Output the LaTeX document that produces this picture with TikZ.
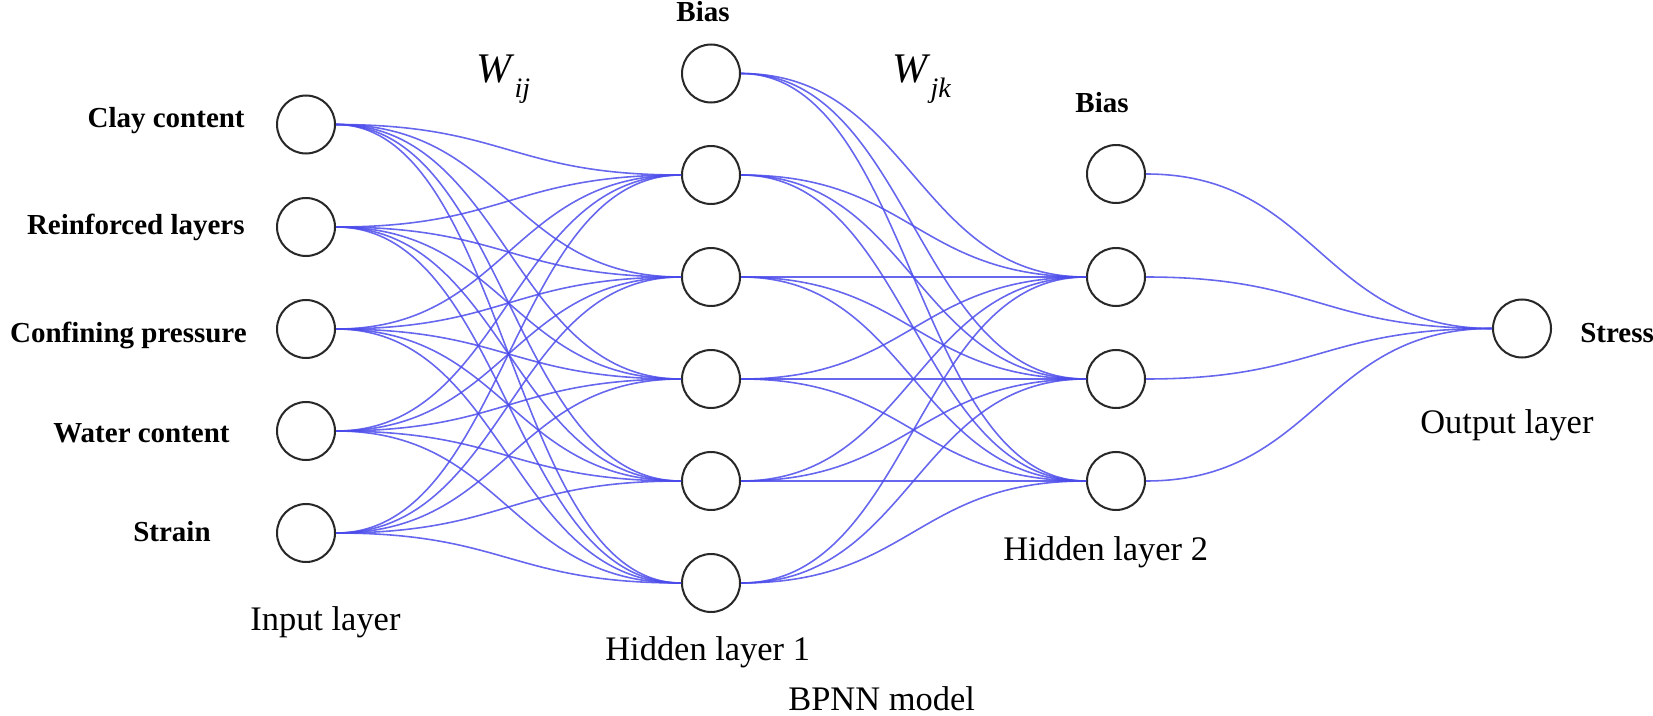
\documentclass[tikz,border=0pt]{standalone}
\usepackage{fontspec}
\setmainfont{Liberation Serif}
\definecolor{wireblue}{RGB}{75,75,235}
\definecolor{ringgray}{RGB}{40,40,40}
\begin{document}
\begin{tikzpicture}[x=0.02cm,y=-0.02cm,
  neuron/.style={circle,draw=ringgray,line width=1.15pt,fill=white,minimum size=1.16cm,inner sep=0pt},
  wire/.style={draw=wireblue,line width=0.9pt,opacity=0.85},
  blabel/.style={font=\fontsize{16.5}{18}\selectfont\bfseries,inner sep=0pt},
  rlabel/.style={font=\fontsize{19.6}{22}\selectfont,inner sep=0pt,anchor=base west},
  wlabel/.style={inner sep=0pt,anchor=base west}]
\useasboundingbox (0,0) rectangle (1653,716);

% input layer
\node[neuron] (i1) at (306,124.5) {};
\node[neuron] (i2) at (306,227) {};
\node[neuron] (i3) at (306,329) {};
\node[neuron] (i4) at (306,431) {};
\node[neuron] (i5) at (306,533) {};
% hidden layer 1
\node[neuron] (hb) at (711,73.5) {};
\node[neuron] (h1) at (711,175) {};
\node[neuron] (h2) at (711,277) {};
\node[neuron] (h3) at (711,379) {};
\node[neuron] (h4) at (711,481) {};
\node[neuron] (h5) at (711,583) {};
% hidden layer 2
\node[neuron] (gb) at (1116,174) {};
\node[neuron] (g1) at (1116,277) {};
\node[neuron] (g2) at (1116,379) {};
\node[neuron] (g3) at (1116,481) {};
% output
\node[neuron] (o) at (1522,328.5) {};

% connections
\foreach \s in {1,...,5}
  \foreach \t in {1,...,5}
    \draw[wire] (i\s.east) .. controls +(170,0) and +(-170,0) .. (h\t.west);
\foreach \s in {b,1,2,3,4,5}
  \foreach \t in {1,2,3}
    \draw[wire] (h\s.east) .. controls +(170,0) and +(-170,0) .. (g\t.west);
\foreach \s in {b,1,2,3}
  \draw[wire] (g\s.east) .. controls +(170,0) and +(-170,0) .. (o.west);

% input labels
\node[blabel,anchor=base east] (lclay) at (245,128) {Clay content};
\node[blabel,anchor=base east] (lrein) at (245,235) {Reinforced layers};
\node[blabel,anchor=base east] (lconf) at (247,342) {Confining pressure};
\node[blabel,anchor=base east] (lwat) at (230,442) {Water content};
\node[blabel,anchor=base east] (lstr) at (211,541) {Strain};
% bias and output labels
\node[blabel,anchor=base] (lbias1) at (703,22) {Bias};
\node[blabel,anchor=base] (lbias2) at (1102,113) {Bias};
\node[blabel,anchor=base west] (lstress) at (1580,342) {Stress};
% weights
\node[wlabel] (wij) at (476,83)
  {{\fontsize{24}{24}\selectfont\textit{W}}\raisebox{-8pt}{\fontsize{16}{16}\selectfont\textit{ij}}};
\node[wlabel] (wjk) at (892,83)
  {{\fontsize{24}{24}\selectfont\textit{W}}\raisebox{-8pt}{\fontsize{16}{16}\selectfont\textit{jk}}};
% layer captions
\node[rlabel] (linput) at (250,630) {Input layer};
\node[rlabel] (lh1) at (605,660) {Hidden layer 1};
\node[rlabel] (lh2) at (1003,560) {Hidden layer 2};
\node[rlabel] (lout) at (1420,433) {Output layer};
\node[rlabel] (lmodel) at (788,710) {BPNN model};
\end{tikzpicture}
\end{document}
